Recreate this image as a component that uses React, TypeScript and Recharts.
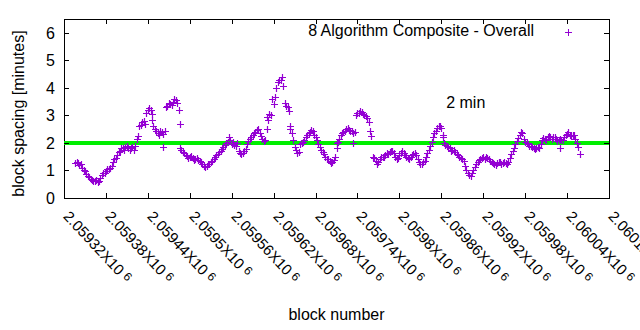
import React from 'react';
import {
  ScatterChart, Scatter, XAxis, YAxis, ReferenceLine, ReferenceArea, ReferenceDot,
} from 'recharts';

// block spacing (minutes), one reading every 4 blocks from firstBlock
const firstBlock = 2059336;
const blockStep = 4;
const spacing = [
  1.28, 1.26, 1.22, 1.02, 0.88, 0.78, 0.66, 0.63, 0.58, 0.72,
  0.9, 0.98, 1.06, 1.15, 1.4, 1.55, 1.72, 1.82, 1.85, 1.8,
  1.82, 1.76, 2.15, 2.6, 2.75, 2.7, 3.18, 3.2, 2.6, 2.45,
  2.3, 2.38, 2.45, 3.35, 3.42, 3.5, 3.55, 3.2, 1.75, 1.62,
  1.52, 1.48, 1.45, 1.4, 1.38, 1.3, 1.17, 1.18, 1.25, 1.33,
  1.5, 1.6, 1.72, 1.85, 1.98, 2.22, 1.95, 1.94, 2.0, 1.62,
  1.65, 1.78, 2.08, 2.22, 2.35, 2.46, 2.35, 2.15, 2.1, 2.85,
  3.0, 3.4, 4.0, 4.3, 4.4, 3.45, 3.3, 2.6, 2.1, 1.75,
  1.68, 2.0, 2.12, 2.28, 2.4, 2.42, 2.2, 1.95, 1.75, 1.6,
  1.42, 1.35, 1.32, 1.48, 2.05, 2.28, 2.4, 2.5, 2.48, 2.42,
  2.4, 3.08, 3.15, 3.05, 2.98, 2.75, 2.25, 1.45, 1.25, 1.4,
  1.5, 1.55, 1.6, 1.7, 1.62, 1.4, 1.55, 1.72, 1.55, 1.45,
  1.5, 1.58, 1.55, 1.3, 1.25, 1.35, 1.62, 1.88, 2.2, 2.45,
  2.6, 2.55, 2.0, 1.88, 1.8, 1.75, 1.68, 1.55, 1.45, 1.35,
  1.0, 0.85, 0.92, 1.12, 1.32, 1.42, 1.48, 1.5, 1.4, 1.32,
  1.24, 1.28, 1.3, 1.28, 1.27, 1.3, 1.58, 1.82, 2.08, 2.28,
  2.35, 2.05, 1.95, 1.88, 1.82, 1.8, 1.82, 2.12, 2.15, 2.2,
  2.22, 2.2, 2.15, 2.1, 2.12, 2.2, 2.32, 2.3, 2.28, 2.15, 1.85,
];

// the blocks in between (firstBlock + 2, every 4 blocks)
const spacingMid = [
  1.32, 1.2, 1.1, 0.98, 0.8, 0.7, 0.62, 0.66, 0.62, 0.85,
  0.92, 1.05, 1.08, 1.3, 1.45, 1.66, 1.8, 1.75, 1.9, 1.75,
  1.86, 1.9, 2.25, 2.65, 2.78, 3.1, 3.26, 3.05, 2.5, 2.35,
  2.42, 2.32, 3.3, 3.45, 3.38, 3.6, 3.45, 1.8, 1.68, 1.55,
  1.45, 1.52, 1.38, 1.45, 1.35, 1.22, 1.12, 1.22, 1.3, 1.42,
  1.55, 1.68, 1.78, 1.92, 2.05, 2.1, 2.02, 1.9, 1.7, 1.58,
  1.72, 1.95, 2.15, 2.3, 2.4, 2.5, 2.25, 2.08, 2.95, 3.05,
  3.6, 3.65, 4.2, 4.3, 4.05, 3.35, 3.15, 2.35, 1.85, 1.62,
  1.95, 2.05, 2.2, 2.35, 2.48, 2.3, 2.1, 1.85, 1.68, 1.5,
  1.4, 1.28, 1.38, 2.0, 2.15, 2.35, 2.45, 2.55, 2.45, 2.35,
  3.0, 3.1, 3.12, 3.0, 2.9, 2.45, 1.5, 1.35, 1.3, 1.48,
  1.5, 1.62, 1.68, 1.72, 1.5, 1.45, 1.65, 1.62, 1.5, 1.42,
  1.55, 1.62, 1.42, 1.22, 1.3, 1.5, 1.75, 2.05, 2.35, 2.55,
  2.62, 2.2, 1.92, 1.85, 1.72, 1.75, 1.6, 1.5, 1.4, 1.15,
  0.92, 0.8, 1.02, 1.22, 1.38, 1.45, 1.42, 1.45, 1.35, 1.28,
  1.2, 1.32, 1.25, 1.32, 1.22, 1.45, 1.7, 1.95, 2.18, 2.4,
  2.15, 1.98, 1.9, 1.86, 1.78, 1.85, 1.95, 2.18, 2.1, 2.25,
  2.15, 2.22, 2.08, 2.15, 2.1, 2.28, 2.38, 2.25, 2.3, 2.0,
];

// isolated points away from the main band
const strayBlocks = [2059446, 2059462, 2059486, 2059610, 2059643, 2059710, 2059734, 2059863, 2060030, 2060058];
const strayValues = [2.83, 1.85, 2.67, 2.52, 2.5, 1.8, 2.0, 2.28, 1.8, 1.6];

const xTicks = [
  2059320, 2059380, 2059440, 2059500, 2059560, 2059620, 2059680,
  2059740, 2059800, 2059860, 2059920, 2059980, 2060040, 2060100,
];
const yTicks = [0, 1, 2, 3, 4, 5, 6];
const targetMinutes = 2;
const seriesName = '8 Algorithm Composite - Overall';

const points = spacing
  .map((v, i) => ({ block: firstBlock + i * blockStep, v }))
  .concat(spacingMid.map((v, i) => ({ block: firstBlock + 2 + i * blockStep, v })))
  .concat(strayBlocks.map((b, i) => ({ block: b, v: strayValues[i] })));

const W = 640;
const H = 330;
const PLOT_LEFT = 64;
const PLOT_RIGHT = 609;
const PLOT_TOP = 19;
const PLOT_BOTTOM = 198;
const PURPLE = '#9400d3';
const FONT = 16;

const Plus = (props: any) => {
  const { cx, cy } = props;
  if (cx == null || cy == null) return null;
  const x = Math.round(cx) + 0.5;
  const y = Math.round(cy) + 0.5;
  return <path d={`M${x - 3.5},${y}h7M${x},${y - 3.5}v7`} stroke={PURPLE} strokeWidth={1.2} fill="none" />;
};

const XTick = (props: any) => {
  const { payload } = props;
  const x = Math.round(payload.coordinate) + 0.5;
  const label = String(+(payload.value / 1e6).toFixed(5));
  return (
    <g>
      <line x1={x} y1={PLOT_BOTTOM} x2={x} y2={PLOT_BOTTOM - 5} stroke="#000" />
      <line x1={x} y1={PLOT_TOP} x2={x} y2={PLOT_TOP + 5} stroke="#000" />
      <text transform={`translate(${x - 2},${PLOT_BOTTOM + 19}) rotate(47)`} fontSize={15} fill="#000">
        {label}X10<tspan fontSize={12} dx={4} dy={-3}>6</tspan>
      </text>
    </g>
  );
};

const YTick = (props: any) => {
  const { payload } = props;
  const y = Math.round(payload.coordinate) + 0.5;
  return (
    <g>
      <line x1={PLOT_LEFT} y1={y} x2={PLOT_LEFT + 5} y2={y} stroke="#000" />
      <line x1={PLOT_RIGHT} y1={y} x2={PLOT_RIGHT - 5} y2={y} stroke="#000" />
      <text x={PLOT_LEFT - 9} y={y} dy={5.5} textAnchor="end" fontSize={FONT} fill="#000">
        {payload.value}
      </text>
    </g>
  );
};

const YTitle = (props: any) => {
  const { viewBox } = props;
  const cx = viewBox.x + 18;
  const cy = viewBox.y + viewBox.height / 2 + 5;
  return (
    <text transform={`translate(${cx},${cy}) rotate(-90)`} textAnchor="middle" dy={5.5} fontSize={FONT} fill="#000">
      block spacing [minutes]
    </text>
  );
};

export default function App() {
  return (
    <div
      style={{
        position: 'absolute', left: 0, top: 0, width: W, height: H, background: '#fff',
        fontFamily: "'Liberation Sans', Arial, sans-serif",
      }}
    >
      <ScatterChart width={W} height={H} margin={{ top: PLOT_TOP, right: W - PLOT_RIGHT, bottom: 0, left: 0 }}>
        <XAxis
          dataKey="block"
          type="number"
          domain={[xTicks[0], xTicks[xTicks.length - 1]]}
          ticks={xTicks}
          interval={0}
          height={H - PLOT_BOTTOM}
          axisLine={false}
          tickLine={false}
          tickSize={0}
          tickMargin={0}
          tick={<XTick />}
          label={{ value: 'block number', position: 'insideBottom', offset: 10, fill: '#000', fontSize: FONT }}
        />
        <YAxis
          dataKey="v"
          type="number"
          domain={[0, 6.5]}
          ticks={yTicks}
          interval={0}
          width={PLOT_LEFT}
          axisLine={false}
          tickLine={false}
          tickSize={0}
          tickMargin={0}
          tick={<YTick />}
          label={{ content: <YTitle /> }}
        />
        <Scatter data={points} dataKey="v" shape={<Plus />} isAnimationActive={false} />
        <ReferenceLine y={targetMinutes} stroke="#00ee00" strokeWidth={4} />
        <ReferenceArea
          x1={xTicks[0]}
          x2={xTicks[xTicks.length - 1]}
          y1={0}
          y2={6.5}
          fill="none"
          stroke="#000"
          strokeOpacity={1}
          shapeRendering="crispEdges"
        />
        <ReferenceDot
          x={2059867}
          y={3.27}
          r={0}
          fill="none"
          stroke="none"
          label={{
            content: (p: any) => (
              <text x={p.viewBox.x} y={p.viewBox.y} fontSize={FONT} fill="#000">2 min</text>
            ),
          }}
        />
      </ScatterChart>
      <div
        style={{
          position: 'absolute', right: W - 534, top: 23, fontSize: FONT, lineHeight: '16px',
          color: '#000', whiteSpace: 'nowrap',
        }}
      >
        {seriesName}
      </div>
      <svg style={{ position: 'absolute', left: 564, top: 28 }} width={9} height={9}>
        <path d="M1,4.5h7M4.5,1v7" stroke={PURPLE} strokeWidth={1} />
      </svg>
    </div>
  );
}
